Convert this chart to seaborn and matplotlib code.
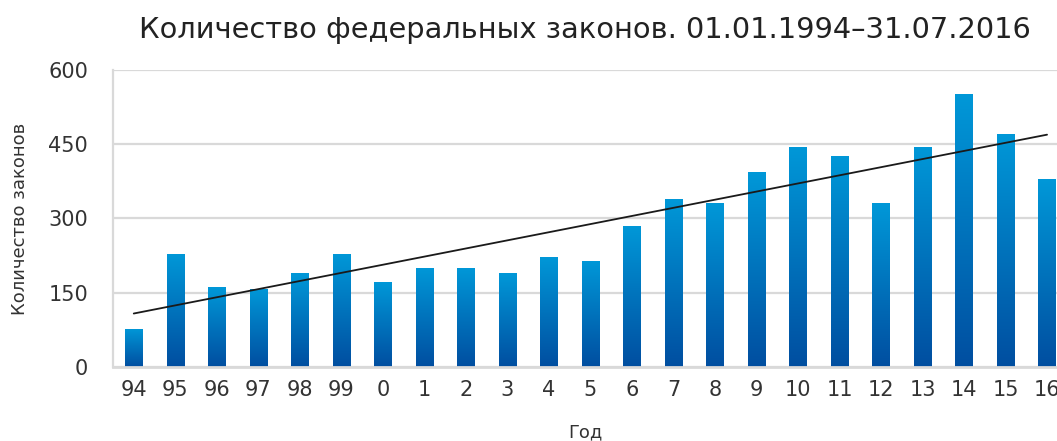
import numpy as np
import pandas as pd
import seaborn as sns
import matplotlib.pyplot as plt
from matplotlib.colors import LinearSegmentedColormap

years = ["94", "95", "96", "97", "98", "99", "0", "1", "2", "3", "4", "5",
         "6", "7", "8", "9", "10", "11", "12", "13", "14", "15", "16"]
laws = [77, 229, 161, 158, 189, 229, 171, 201, 201, 189, 223, 215,
        285, 339, 331, 393, 445, 427, 331, 445, 551, 471, 379]

title = "Количество федеральных законов. 01.01.1994–31.07.2016"
xlabel = "Год"
ylabel = "Количество законов"

sns.set_theme(style="white")
plt.rcParams['font.family'] = ['DejaVu Sans']

df = pd.DataFrame({"year": years, "laws": laws})

fig = plt.figure(figsize=(10.57, 4.41), dpi=100)
ax = fig.add_axes([113 / 1057, 74 / 441, 944 / 1057, 297 / 441])

sns.barplot(data=df, x="year", y="laws", color="#0096d6", width=0.42,
            saturation=1, ax=ax, zorder=2)

# vertical gradient on each bar
grad_cmap = LinearSegmentedColormap.from_list("bars", ["#004ea0", "#0098d8"])
grad = np.linspace(0, 1, 256).reshape(-1, 1)
for bar in ax.patches:
    x0, y0 = bar.get_x(), bar.get_y()
    w, h = bar.get_width(), bar.get_height()
    img = ax.imshow(grad, cmap=grad_cmap, origin="lower", aspect="auto",
                    extent=[x0, x0 + w, y0, y0 + h], zorder=2,
                    interpolation="bilinear")
    img.set_clip_path(bar)
    bar.set_facecolor("none")
    bar.set_edgecolor("none")

# linear trend line
xs = np.arange(len(laws))
k, b = np.polyfit(xs, laws, 1)
ax.plot(xs, k * xs + b, color="#1a1a1a", lw=1.3, zorder=3)

ax.set_xlim(-0.5, 22.24)
ax.set_ylim(0, 600)
ax.set_yticks([0, 150, 300, 450, 600])
ax.yaxis.grid(True, color="#d9d9d9", lw=1.6, zorder=0)
ax.set_axisbelow(True)

for side in ["top", "right"]:
    ax.spines[side].set_visible(False)
ax.spines["left"].set_color("#d9d9d9")
ax.spines["left"].set_linewidth(1.6)
ax.spines["bottom"].set_color("#d9d9d9")
ax.spines["bottom"].set_linewidth(2)

ax.tick_params(axis="y", length=0, pad=18, labelsize=15, labelcolor="#333333")
ax.tick_params(axis="x", length=0, pad=9, labelsize=15, labelcolor="#333333")

ax.set_xlabel(xlabel, fontsize=13, color="#333333", labelpad=17)
ax.set_ylabel(ylabel, fontsize=13, color="#333333", labelpad=14)
ax.set_title(title, fontsize=20.8, color="#222222", pad=23)

fig.savefig("out.png", dpi=100)
